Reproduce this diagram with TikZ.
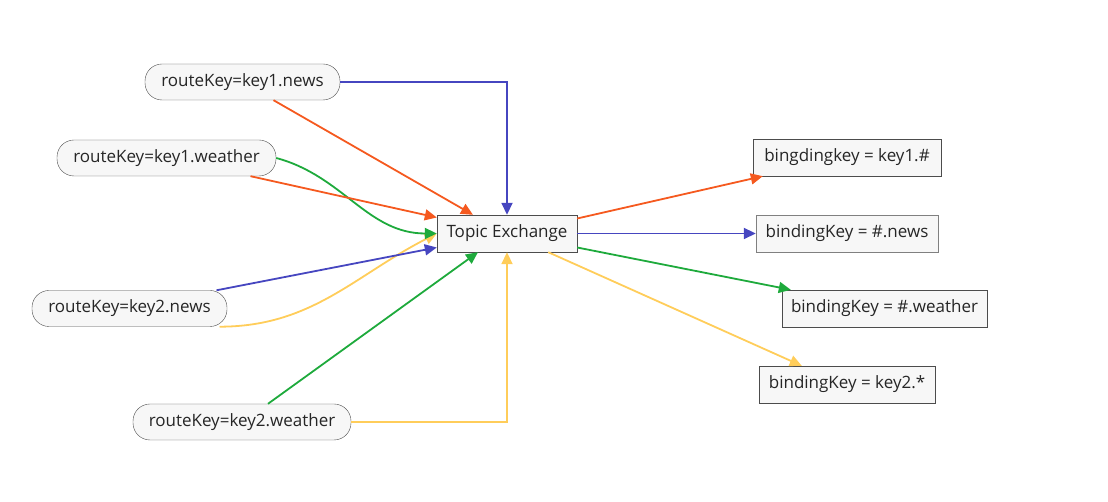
\documentclass[tikz,border=0pt]{standalone}
\usepackage{fontspec}
\setmainfont{Open Sans}
\usetikzlibrary{arrows.meta}

\definecolor{keyorange}{HTML}{F5591F}
\definecolor{keyblue}{HTML}{4646C0}
\definecolor{keygreen}{HTML}{1EAA3C}
\definecolor{keyyellow}{HTML}{FFCD5A}

\begin{document}
\begin{tikzpicture}[x=1pt, y=1pt,
  routebox/.style={draw=black!70, fill=black!3, rounded corners=17pt,
    minimum height=36pt, inner sep=0pt, text=black!85,
    font=\fontsize{17}{20}\selectfont},
  bindbox/.style={draw=black!70, fill=black!3, minimum height=37pt,
    inner sep=0pt, text=black!85, font=\fontsize{17}{20}\selectfont},
  link/.style={line width=1.8pt, -{Triangle[length=12pt, width=11pt]}}]

\useasboundingbox (0,0) rectangle (1108,502);

% routing keys
\node [routebox, minimum width=195pt] (r1) at (242.5,420) {routeKey=key1.news};
\node [routebox, minimum width=219pt] (r2) at (166.5,344) {routeKey=key1.weather};
\node [routebox, minimum width=195pt] (r3) at (129.5,193.5) {routeKey=key2.news};
\node [routebox, minimum width=218pt] (r4) at (242,80) {routeKey=key2.weather};

% exchange
\node [bindbox, minimum width=140pt] (ex) at (507,268.5) {Topic Exchange};

% binding keys
\node [bindbox, minimum width=188pt] (b1) at (847,344.5) {bingdingkey = key1.\#};
\node [bindbox, minimum width=182pt, draw=black!50] (b2) at (847,268.5) {bindingKey = \#.news};
\node [bindbox, minimum width=205pt] (b3) at (884.5,193.5) {bindingKey = \#.weather};
\node [bindbox, minimum width=176pt] (b4) at (847,117.5) {bindingKey = key2.*};

% into the exchange
\draw [link, keyblue] (r1.east) -| (ex.north);
\draw [link, keyorange] ([xshift=31pt]r1.south) -- ([xshift=-34pt]ex.north);
\draw [link, keyyellow] ([xshift=90pt]r3.south) to [out=0, in=207] (ex.west);
\draw [link, keygreen] (r2.east) to [out=-15, in=180] (ex.west);
\draw [link, keyorange] ([xshift=84pt]r2.south) -- ([yshift=16pt]ex.west);
\draw [link, keyblue] ([xshift=87pt]r3.north) -- ([yshift=-14pt]ex.west);
\draw [link, keygreen] ([xshift=26pt]r4.north) -- ([xshift=-29pt]ex.south);
\draw [link, keyyellow] (r4.east) -| (ex.south);

% out of the exchange
\draw [link, keyorange] ([yshift=15pt]ex.east) -- ([xshift=10pt]b1.south west);
\draw [link, keyblue] (ex.east) -- (b2.west);
\draw [link, keygreen] ([yshift=-14pt]ex.east) -- ([xshift=9pt]b3.north west);
\draw [link, keyyellow] ([xshift=-29pt]ex.south east) -- ([xshift=43pt]b4.north west);

\end{tikzpicture}
\end{document}
